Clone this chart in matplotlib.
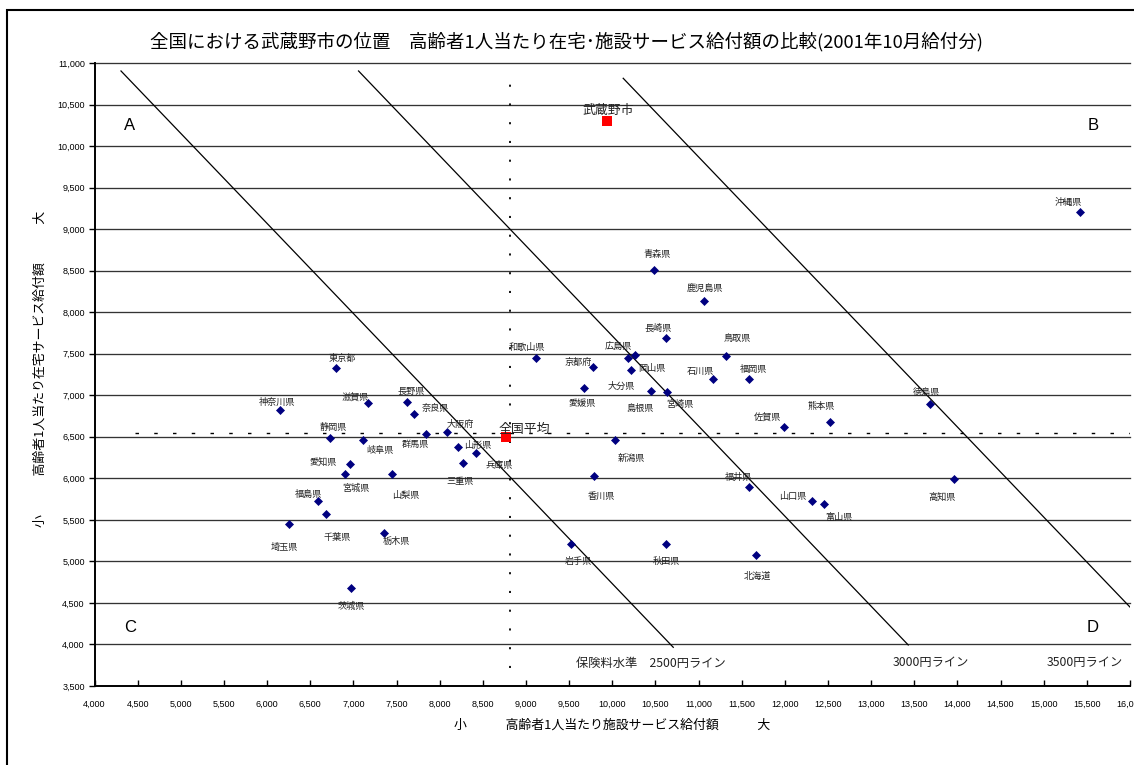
import matplotlib
matplotlib.use('Agg')
import matplotlib.pyplot as plt
from matplotlib.patches import Rectangle
from matplotlib.ticker import FuncFormatter, MultipleLocator

plt.rcParams['lines.scale_dashes'] = False
JP = ['Noto Sans CJK JP', 'DejaVu Sans']
NUM = ['Liberation Sans', 'DejaVu Sans']

# ---------------- data ----------------
prefs = ['沖縄県', '青森県', '鹿児島県', '長崎県', '鳥取県', '和歌山県', '広島県', '大分県',
         '島根県', '宮崎県', '京都府', '岡山県', '石川県', '福岡県', '愛媛県', '佐賀県',
         '熊本県', '徳島県', '新潟県', '香川県', '福井県', '山口県', '富山県', '高知県',
         '岩手県', '秋田県', '北海道', '東京都', '神奈川県', '滋賀県', '長野県', '奈良県',
         '大阪府', '静岡県', '岐阜県', '群馬県', '山形県', '兵庫県', '三重県', '愛知県',
         '宮城県', '山梨県', '福島県', '千葉県', '埼玉県', '栃木県', '茨城県']
facility = [15415, 10479, 11066, 10618, 11317, 9119, 10259, 10185,
            10452, 10634, 9776, 10216, 11163, 11580, 9675, 11986,
            12526, 13677, 10034, 9784, 11580, 12317, 12453, 13959,
            9518, 10618, 11665, 6795, 6153, 7169, 7617, 7699,
            8088, 6725, 7115, 7838, 8212, 8420, 8266, 6964,
            6906, 7447, 6586, 6682, 6254, 7351, 6972]
home = [9206, 8512, 8139, 7690, 7473, 7445, 7485, 7445,
        7052, 7039, 7344, 7301, 7196, 7196, 7084, 6618,
        6678, 6891, 6458, 6025, 5896, 5724, 5695, 5992,
        5213, 5213, 5074, 7328, 6819, 6907, 6923, 6778,
        6562, 6489, 6462, 6534, 6377, 6302, 6185, 6169,
        6052, 6052, 5731, 5567, 5447, 5346, 4676]

special_names = ['武蔵野市', '全国平均']
special_facility = [9934, 8764]
special_home = [10298, 6501]

# premium level lines (2500 / 3000 / 3500 yen)
line_x0 = [4307, 7060, 10127]
line_y0 = [10904, 10904, 10816]
line_x1 = [10707, 13430, 16000]
line_y1 = [3966, 3994, 4450]
line_labels = ['保険料水準　2500円ライン', '3000円ライン', '3500円ライン']

ref_x = 8810   # vertical dotted reference
ref_y = 6540   # horizontal dashed reference

# label offsets (pixels, screen: +x right, +y down)
label_dx = [-11, 4, 1, -7, 11, -9, -16, -7,
            -11, 13, -15, 21, -12, 5, -2, -16,
            -9, -3, 16, 8, -10, -19, 15, -12,
            8, 1, 1, 7, -3, -13, 5, 22,
            13, 4, 17, -10, 20, 23, -3, -27,
            11, 14, -9, 11, -5, 13, 0]
label_dy = [-10, -15, -12, -10, -17, -11, -9, 28,
            17, 12, -4, -2, -8, -10, 15, -10,
            -16, -12, 18, 20, -10, -5, 14, 18,
            18, 18, 21, -10, -8, -6, -10, -5,
            -7, -10, 11, 11, -2, 12, 19, -1,
            14, 21, -6, 23, 23, 9, 18]
special_dx = [2, 19]
special_dy = [-11, -7]

# ---------------- figure ----------------
W, H = 1134, 765
fig = plt.figure(figsize=(W / 100, H / 100), dpi=100)
fig.patch.set_facecolor('white')

# outer border
fig.patches.append(Rectangle((7 / W, -0.1), 1.2, 1 - 10 / H + 0.1, transform=fig.transFigure,
                             fill=False, edgecolor='black', linewidth=1.5))

ax = fig.add_axes([94.5 / W, 79 / H, (1130 - 94.5) / W, 623 / H])
ax.set_xlim(4000, 16000)
ax.set_ylim(3500, 11000)

for yv in range(4000, 11001, 500):
    ax.axhline(yv, color='#333333', lw=0.95, zorder=1, clip_on=False)

# reference lines
ax.plot([ref_x, ref_x], [3715, 10820], color='black', lw=1.3,
        dashes=(1.5, 12), zorder=2)
ax.plot([4470, 16000], [ref_y, ref_y], color='black', lw=1.0,
        dashes=(2.5, 11), zorder=2)

# diagonal lines
for x0, y0, x1, y1 in zip(line_x0, line_y0, line_x1, line_y1):
    ax.plot([x0, x1], [y0, y1], color='black', lw=0.9, zorder=2)

# points
ax.plot(facility, home, linestyle='none', marker='D', markersize=4.3,
        color='#000080', markeredgecolor='#000080', markeredgewidth=0.5, zorder=4)
ax.plot(special_facility, special_home, linestyle='none', marker='s', markersize=7.8,
        color='#FF0000', markeredgewidth=0, zorder=5)

for n, x, y, dx, dy in zip(prefs, facility, home, label_dx, label_dy):
    ax.annotate(n, (x, y), xytext=(dx, -dy), textcoords='offset pixels',
                ha='center', va='center', fontsize=6.6, family=JP, color='#222222', zorder=6)
for n, x, y, dx, dy in zip(special_names, special_facility, special_home, special_dx, special_dy):
    ax.annotate(n, (x, y), xytext=(dx, -dy), textcoords='offset pixels',
                ha='center', va='center', fontsize=9.3, family=JP, color='#222222', zorder=6)

# quadrant letters
for t, x, y in [('A', 4411, 10242), ('B', 15570, 10242), ('C', 4411, 4210), ('D', 15570, 4210)]:
    ax.text(x, y, t, ha='center', va='center', fontsize=12, family=NUM)

# line labels
for t, x in zip(line_labels, [10448, 13692, 15477]):
    ax.text(x, 3777, t, ha='center', va='center', fontsize=8.8, family=JP, color='#222222')

# axes styling
for s in ['top', 'right']:
    ax.spines[s].set_visible(False)
for s in ['left', 'bottom']:
    ax.spines[s].set_linewidth(1.4)
    ax.spines[s].set_color('black')

fmt = FuncFormatter(lambda v, p: f'{v:,.0f}')
ax.xaxis.set_major_locator(MultipleLocator(500))
ax.yaxis.set_major_locator(MultipleLocator(500))
ax.xaxis.set_major_formatter(fmt)
ax.yaxis.set_major_formatter(fmt)
ax.tick_params(axis='x', direction='in', length=4, width=1, pad=10, labelsize=6.5)
ax.tick_params(axis='y', direction='out', length=4, width=1, pad=3, labelsize=6.5)
for lab in ax.get_xticklabels() + ax.get_yticklabels():
    lab.set_family(NUM)

fig.text(0.5, 1 - 42 / H, '全国における武蔵野市の位置　高齢者1人当たり在宅･施設サービス給付額の比較(2001年10月給付分)',
         ha='center', va='center', fontsize=13.3, family=JP)
fig.text(612 / W, 1 - 725 / H, '小　　　高齢者1人当たり施設サービス給付額　　　大',
         ha='center', va='center', fontsize=9.3, family=JP)
fig.text(40 / W, 1 - 369 / H, '小　　　高齢者1人当たり在宅サービス給付額　　　大',
         ha='center', va='center', rotation=90, fontsize=9.3, family=JP)

fig.savefig('out.png', dpi=100)
